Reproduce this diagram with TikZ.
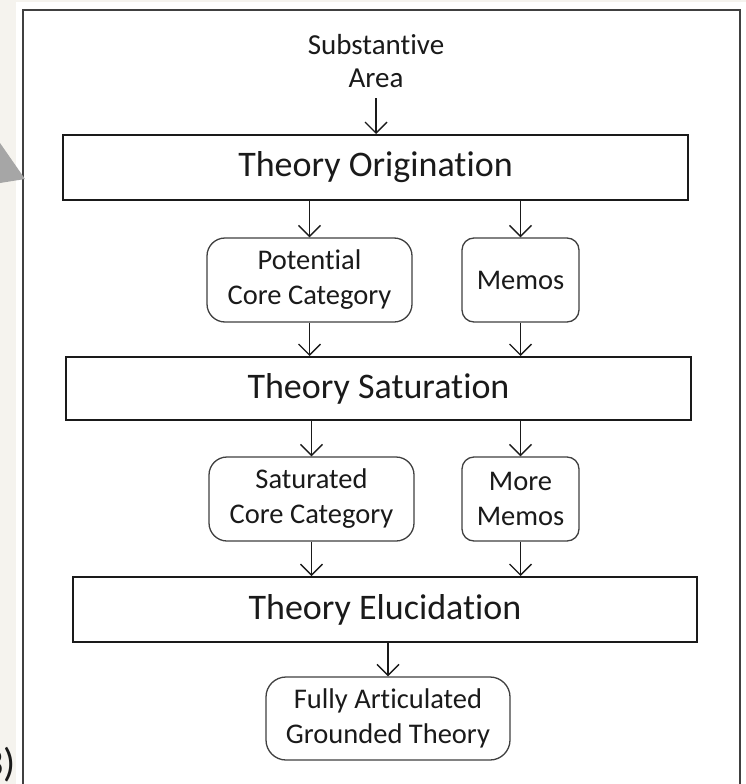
\documentclass[tikz,border=0pt]{standalone}
\usepackage{fontspec}
\setmainfont{Carlito}[Ligatures=NoCommon]
\usetikzlibrary{arrows.meta}
\definecolor{pagebg}{HTML}{F5F3EE}
\definecolor{framegrey}{HTML}{404040}
\definecolor{inkdark}{HTML}{1A1A1A}
\begin{document}
\begin{tikzpicture}[x=1pt,y=-1pt,
  stagebox/.style={draw=inkdark, line width=2pt, inner sep=0pt,
    font=\fontsize{36}{40}\selectfont, text=inkdark},
  itembox/.style={draw=framegrey, line width=1.3pt, rounded corners=16pt,
    inner sep=0pt, align=center, font=\fontsize{28.5}{35}\selectfont, text=inkdark},
  flow/.style={draw=inkdark, line width=1.4pt,
    -{Straight Barb[length=11pt, width=22pt, line width=1.4pt]}},
]
% page background and panel
\useasboundingbox (0,0) rectangle (746,784);
\fill[pagebg] (0,0) rectangle (746,784);
\fill[white] (16,2) rectangle (746,784);
\draw[framegrey, line width=2pt] (23,790) -- (23,10) -- (740,10) -- (740,790);
% pointer tip at the left edge
\fill[black!35] (0,143) -- (25,179) -- (0,183) -- cycle;
\node[anchor=east, font=\fontsize{40}{40}\selectfont, text=inkdark, inner sep=0pt] (fig) at (16,765) {3)};

% stages
\node[stagebox, minimum width=625pt, minimum height=65pt] (orig) at (375.5,167.5) {Theory Origination};
\node[stagebox, minimum width=625pt, minimum height=63pt] (sat) at (378.5,388.5) {Theory Saturation};
\node[stagebox, minimum width=624pt, minimum height=65pt] (eluc) at (385,609.5) {Theory Elucidation};

% intermediate products
\node[align=center, font=\fontsize{29}{33}\selectfont, text=inkdark, inner sep=0pt] (area) at (376,61) {Substantive\\Area};
\node[itembox, minimum width=205pt, minimum height=84pt, rounded corners=18pt] (pcc) at (309.5,280) {Potential\\Core Category};
\node[itembox, minimum width=117pt, minimum height=84pt, rounded corners=12pt] (memo) at (520.5,280) {Memos};
\node[itembox, minimum width=205pt, minimum height=84pt, rounded corners=18pt] (scc) at (311.5,499) {Saturated\\Core Category};
\node[itembox, minimum width=117pt, minimum height=84pt, rounded corners=12pt] (mmemo) at (520.5,499) {More\\Memos};
\node[itembox, minimum width=244pt, minimum height=83pt, rounded corners=20pt] (fagt) at (388,718.5) {Fully Articulated\\Grounded Theory};

% connectors
\coordinate (areaout) at (376,98);
\draw[flow] (areaout) -- (areaout |- orig.north);
\draw[flow] (pcc.north |- orig.south) -- (pcc.north);
\draw[flow] (memo.north |- orig.south) -- (memo.north);
\draw[flow] (pcc.south) -- (pcc.south |- sat.north);
\draw[flow] (memo.south) -- (memo.south |- sat.north);
\draw[flow] (scc.north |- sat.south) -- (scc.north);
\draw[flow] (mmemo.north |- sat.south) -- (mmemo.north);
\draw[flow] (scc.south) -- (scc.south |- eluc.north);
\draw[flow] (mmemo.south) -- (mmemo.south |- eluc.north);
\draw[flow] (fagt.north |- eluc.south) -- (fagt.north);
\end{tikzpicture}
\end{document}
